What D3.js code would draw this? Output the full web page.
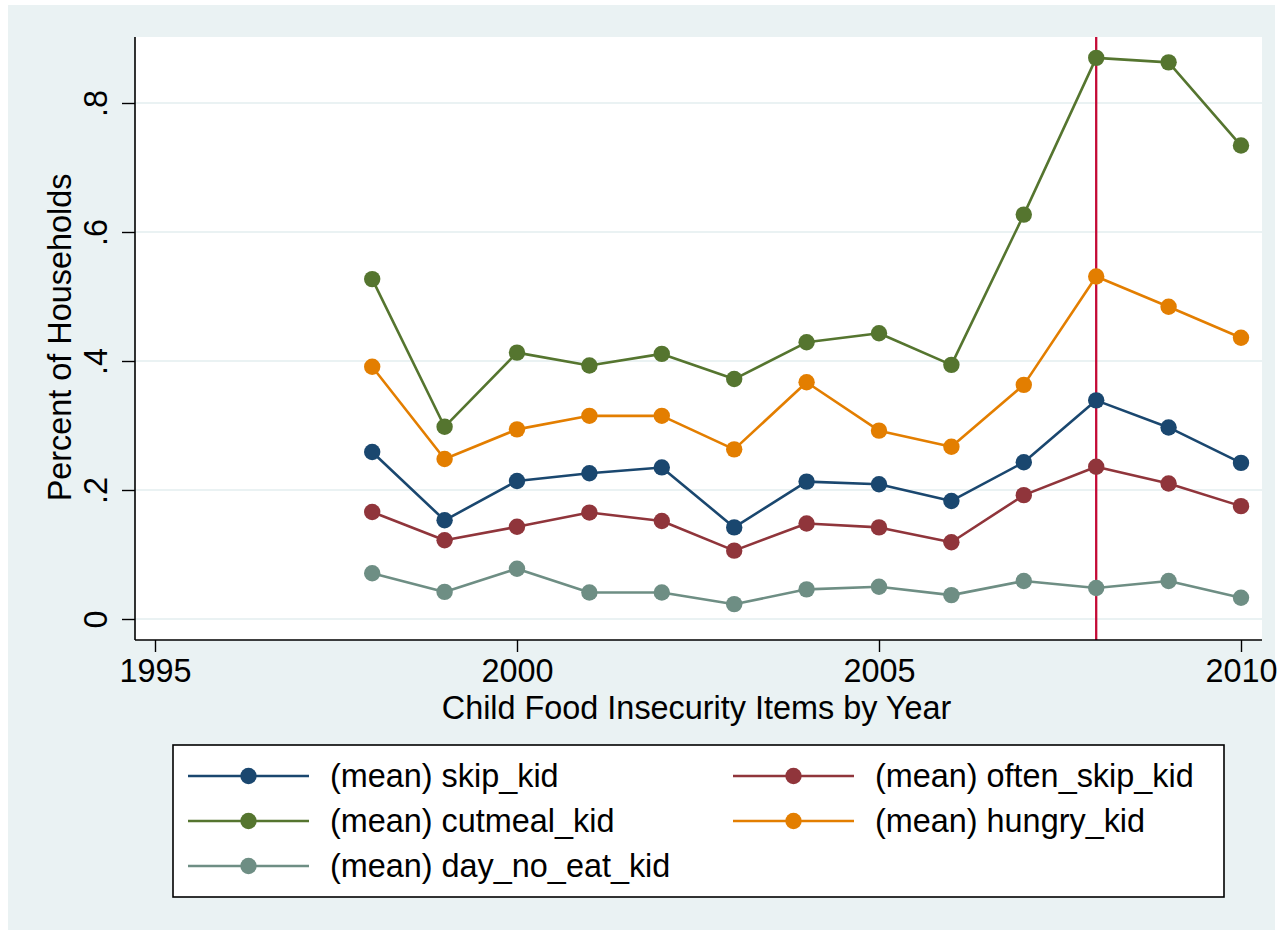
<!DOCTYPE html>
<html>
<head>
<meta charset="utf-8">
<script src="https://cdn.jsdelivr.net/npm/d3@7"></script>
<style>
  html, body { margin: 0; padding: 0; background: #ffffff; }
  svg { display: block; }
  text { font-family: "Liberation Sans", Arial, Helvetica, sans-serif; fill: #000; }
</style>
</head>
<body>
<svg id="chart" width="1279" height="935"></svg>
<script>
// Survey years
const years = [1998, 1999, 2000, 2001, 2002, 2003, 2004, 2005, 2006, 2007, 2008, 2009, 2010];

// Share of households reporting each child food-insecurity item
const skipKid      = [0.259, 0.153, 0.214, 0.226, 0.235, 0.142, 0.213, 0.209, 0.183, 0.243, 0.339, 0.297, 0.242];
const oftenSkipKid = [0.166, 0.122, 0.143, 0.165, 0.152, 0.106, 0.148, 0.142, 0.119, 0.192, 0.236, 0.210, 0.175];
const cutmealKid   = [0.527, 0.298, 0.413, 0.393, 0.411, 0.372, 0.429, 0.443, 0.394, 0.627, 0.870, 0.863, 0.734];
const hungryKid    = [0.391, 0.248, 0.294, 0.315, 0.315, 0.263, 0.367, 0.292, 0.267, 0.363, 0.531, 0.484, 0.436];
const dayNoEatKid  = [0.071, 0.042, 0.078, 0.041, 0.041, 0.023, 0.046, 0.050, 0.037, 0.059, 0.048, 0.059, 0.033];

const seriesNames = ["(mean) skip_kid", "(mean) often_skip_kid", "(mean) cutmeal_kid", "(mean) hungry_kid", "(mean) day_no_eat_kid"];

// Axis ticks
const xTicks = [1995, 2000, 2005, 2010];
const yTicks = [0, 0.2, 0.4, 0.6, 0.8];
const yTickLabels = ["0", ".2", ".4", ".6", ".8"];
const markerYear = 2008;

const xTitle = "Child Food Insecurity Items by Year";
const yTitle = "Percent of Households";

// Styling
const colors = ["#1a476f", "#90353b", "#55752f", "#e37e00", "#6e8e84"];
const seriesValues = [skipKid, oftenSkipKid, cutmealKid, hungryKid, dayNoEatKid];
const series = seriesNames.map((name, i) => ({ name, color: colors[i], values: seriesValues[i] }));

const bg = "#eaf2f3";
const plot = { left: 135, top: 37, right: 1262, bottom: 640 };
const fontSize = 32.4;

const svg = d3.select("#chart");

// Outer graph region
svg.append("rect").attr("x", 8).attr("y", 5).attr("width", 1267).attr("height", 925).attr("fill", bg);

// Plot region
svg.append("rect")
  .attr("x", plot.left).attr("y", plot.top)
  .attr("width", plot.right - plot.left).attr("height", plot.bottom - plot.top)
  .attr("fill", "#ffffff");

const x = d3.scaleLinear().domain([1995, 2010]).range([155, 1241]);
const y = d3.scaleLinear().domain([0, 0.8]).range([619, 103]);

// Horizontal grid lines
svg.append("g").selectAll("line").data(yTicks).join("line")
  .attr("x1", plot.left).attr("x2", plot.right)
  .attr("y1", d => y(d)).attr("y2", d => y(d))
  .attr("stroke", bg).attr("stroke-width", 2);

// Reference line at 2008
svg.append("line")
  .attr("x1", x(markerYear)).attr("x2", x(markerYear))
  .attr("y1", plot.top).attr("y2", plot.bottom)
  .attr("stroke", "#c40a36").attr("stroke-width", 2.3);

// Y axis
const yAxis = svg.append("g")
  .attr("transform", `translate(${plot.left},0)`)
  .call(d3.axisLeft(y).tickValues(yTicks).tickSize(13).tickFormat((d, i) => yTickLabels[i]));
yAxis.select(".domain").attr("d", `M0,${plot.top}V${plot.bottom}`).attr("stroke", "#000").attr("stroke-width", 1.6);
yAxis.selectAll(".tick line").attr("stroke", "#000").attr("stroke-width", 1.4);
yAxis.selectAll(".tick text")
  .attr("x", null).attr("dy", null)
  .attr("transform", "translate(-28,0) rotate(-90)")
  .attr("text-anchor", "middle")
  .attr("font-size", fontSize)
  .attr("font-family", "Liberation Sans, Arial, sans-serif")
  .attr("fill", "#000");

// X axis
const xAxis = svg.append("g")
  .attr("transform", `translate(0,${plot.bottom})`)
  .call(d3.axisBottom(x).tickValues(xTicks).tickSize(12).tickFormat(d3.format("d")));
xAxis.select(".domain").attr("d", `M${plot.left},0H${plot.right}`).attr("stroke", "#000").attr("stroke-width", 1.6);
xAxis.selectAll(".tick line").attr("stroke", "#000").attr("stroke-width", 1.4);
xAxis.selectAll(".tick text")
  .attr("y", 42).attr("dy", null)
  .attr("font-size", fontSize)
  .attr("font-family", "Liberation Sans, Arial, sans-serif")
  .attr("fill", "#000");

// Axis titles
svg.append("text")
  .attr("x", (plot.left + plot.right) / 2 - 2).attr("y", 719)
  .attr("text-anchor", "middle").attr("font-size", fontSize)
  .text(xTitle);

svg.append("text")
  .attr("transform", `translate(71,${(plot.top + plot.bottom) / 2 - 1}) rotate(-90)`)
  .attr("text-anchor", "middle").attr("font-size", fontSize)
  .text(yTitle);

// Series lines and markers
const line = d3.line().x((d, i) => x(years[i])).y(d => y(d));
const gSeries = svg.append("g");
series.forEach(s => {
  gSeries.append("path")
    .attr("d", line(s.values))
    .attr("fill", "none").attr("stroke", s.color).attr("stroke-width", 2.6)
    .attr("stroke-linejoin", "round");
});
series.forEach(s => {
  gSeries.append("g").selectAll("circle").data(s.values).join("circle")
    .attr("cx", (d, i) => x(years[i])).attr("cy", d => y(d))
    .attr("r", 8.2).attr("fill", s.color);
});

// Legend
const legend = { x: 173, y: 745, w: 1051, h: 152 };
svg.append("rect")
  .attr("x", legend.x).attr("y", legend.y).attr("width", legend.w).attr("height", legend.h)
  .attr("fill", "#fff").attr("stroke", "#000").attr("stroke-width", 1.6);

const colX = [188, 733];
const rowY = [776, 821, 866];
series.forEach((s, i) => {
  const cx = colX[i % 2], cy = rowY[Math.floor(i / 2)];
  const g = svg.append("g").attr("transform", `translate(${cx},${cy})`);
  g.append("line").attr("x1", 0).attr("x2", 121).attr("y1", 0).attr("y2", 0)
    .attr("stroke", s.color).attr("stroke-width", 2.6);
  g.append("circle").attr("cx", 60.5).attr("cy", 0).attr("r", 8.2).attr("fill", s.color);
  g.append("text").attr("x", 142).attr("y", 11).attr("font-size", fontSize).text(s.name);
});
</script>
</body>
</html>
